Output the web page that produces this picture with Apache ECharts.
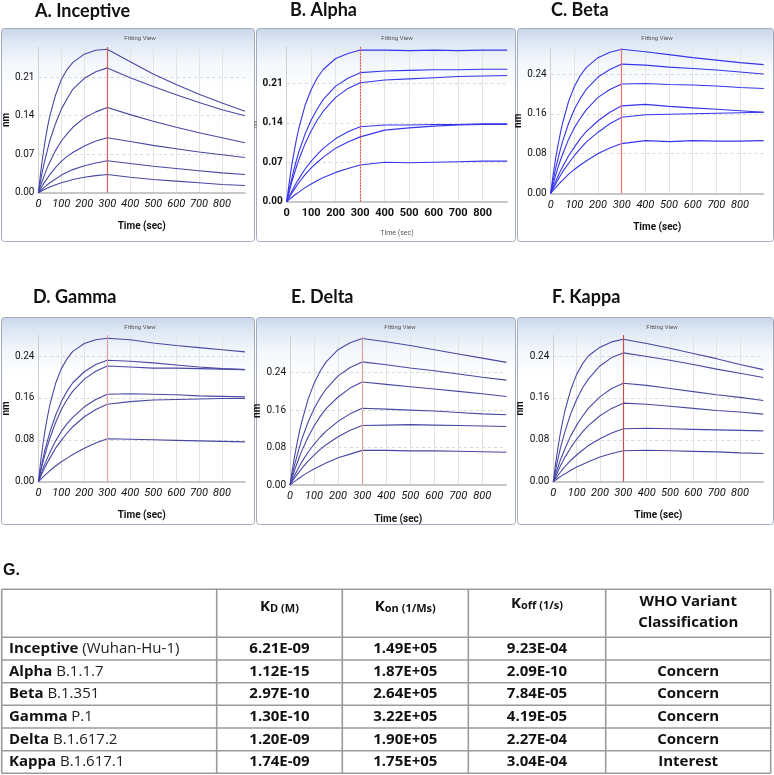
<!DOCTYPE html>
<html><head><meta charset="utf-8">
<script src="https://cdn.jsdelivr.net/npm/echarts@6/dist/echarts.min.js"></script>
<style>html,body{margin:0;padding:0;background:#fff}#c{width:774px;height:775px}</style>
</head><body><div id="c"></div>
<script>
// ---------- DATA ----------
const times = [0,10,20,30,40,50,75,100,125,150,200,250,300,400,500,600,700,800,900];
const inceptive = [
  [0,.037,.069,.096,.120,.140,.178,.206,.224,.237,.252,.259,.261, .238,.216,.197,.179,.163,.148],
  [0,.023,.044,.062,.079,.095,.126,.152,.171,.188,.208,.220,.227, .209,.193,.178,.164,.151,.140],
  [0,.013,.025,.036,.047,.056,.077,.094,.107,.119,.136,.147,.155, .142,.130,.119,.109,.100,.091],
  [0,.0076,.0146,.021,.027,.033,.046,.057,.066,.073,.085,.094,.100, .093,.086,.080,.074,.069,.064],
  [0,.004,.0079,.0116,.015,.018,.025,.032,.037,.042,.049,.054,.058, .053,.048,.044,.040,.036,.033],
  [0,.0023,.0045,.0066,.0085,.0104,.0145,.018,.021,.024,.028,.031,.033, .028,.024,.021,.018,.015,.013]
];
const alpha = [
  [0,.033,.063,.088,.111,.131,.171,.199,.220,.235,.254,.263,.269, .269,.268,.269,.268,.269,.269],
  [0,.021,.040,.058,.074,.089,.120,.145,.165,.182,.205,.219,.229, .232,.233,.234,.234,.235,.235],
  [0,.017,.034,.048,.062,.075,.103,.126,.145,.161,.185,.201,.211, .216,.218,.220,.222,.223,.224],
  [0,.009,.018,.026,.034,.041,.058,.072,.084,.095,.112,.124,.133, .136,.136,.137,.137,.138,.138],
  [0,.0075,.0146,.021,.028,.034,.048,.060,.070,.079,.095,.106,.115, .127,.131,.134,.136,.137,.137],
  [0,.0038,.0074,.011,.0142,.017,.025,.0315,.0375,.043,.052,.059,.065, .070,.069,.070,.071,.072,.072]
];
const beta = [
  [0,.036,.068,.095,.119,.141,.184,.215,.237,.253,.273,.284,.290, .285,.279,.273,.268,.263,.259],
  [0,.025,.048,.068,.087,.104,.140,.169,.191,.209,.234,.249,.260, .258,.254,.251,.248,.244,.240],
  [0,.018,.035,.050,.065,.078,.108,.132,.151,.168,.193,.209,.220, .221,.219,.218,.216,.213,.211],
  [0,.012,.023,.034,.044,.053,.075,.093,.110,.124,.146,.163,.176, .179,.175,.172,.169,.166,.163],
  [0,.009,.018,.027,.035,.043,.060,.076,.090,.103,.123,.140,.153, .158,.159,.160,.161,.162,.163],
  [0,.006,.011,.0166,.0217,.026,.038,.048,.057,.065,.080,.091,.100, .106,.104,.106,.105,.105,.106]
];
const gamma = [
  [0,.039,.072,.101,.125,.147,.188,.216,.235,.249,.264,.271,.274, .271,.265,.260,.256,.252,.248],
  [0,.023,.044,.063,.079,.095,.127,.153,.173,.189,.210,.224,.232, .230,.227,.223,.219,.216,.214],
  [0,.020,.038,.054,.069,.083,.113,.138,.157,.173,.196,.211,.221, .219,.217,.217,.216,.215,.214],
  [0,.013,.025,.036,.046,.056,.078,.096,.111,.123,.143,.157,.167, .168,.167,.166,.164,.163,.162],
  [0,.010,.0197,.0288,.037,.045,.064,.079,.093,.105,.124,.138,.148, .153,.156,.157,.158,.159,.159],
  [0,.0045,.0088,.013,.017,.021,.030,.038,.045,.052,.064,.074,.082, .081,.080,.079,.078,.077,.076]
];
const delta = [
  [0,.034,.064,.091,.116,.137,.183,.217,.243,.263,.289,.304,.313, .306,.298,.289,.280,.271,.262],
  [0,.023,.0445,.064,.082,.099,.134,.163,.186,.205,.233,.251,.263, .257,.250,.244,.237,.230,.224],
  [0,.017,.033,.047,.061,.074,.102,.126,.146,.163,.188,.207,.220, .215,.210,.205,.200,.195,.189],
  [0,.011,.0216,.031,.041,.050,.070,.087,.102,.115,.136,.152,.164, .162,.160,.158,.155,.152,.150],
  [0,.008,.0154,.0226,.029,.036,.051,.064,.0756,.086,.103,.117,.127, .128,.129,.128,.127,.126,.125],
  [0,.004,.0078,.0116,.015,.019,.027,.034,.0407,.047,.058,.066,.074, .074,.073,.073,.072,.071,.070]
];
const kappa = [
  [0,.035,.065,.092,.115,.136,.176,.205,.225,.240,.257,.267,.272, .264,.255,.245,.235,.224,.214],
  [0,.023,.0437,.063,.080,.096,.130,.157,.179,.196,.221,.237,.246, .239,.232,.224,.215,.207,.199],
  [0,.015,.028,.041,.052,.063,.088,.108,.125,.140,.162,.178,.188, .184,.178,.172,.166,.161,.155],
  [0,.0105,.020,.030,.038,.047,.065,.081,.095,.107,.126,.140,.150, .148,.144,.140,.136,.133,.129],
  [0,.0063,.0124,.018,.0236,.029,.041,.051,.060,.069,.082,.093,.101, .102,.101,.100,.099,.098,.097],
  [0,.0033,.0065,.0096,.0126,.015,.022,.028,.033,.038,.047,.054,.059, .060,.059,.058,.057,.055,.054]
];
const injectionEnd = 300;
const panelTitles = ['A. Inceptive','B. Alpha','C. Beta','D. Gamma','E. Delta','F. Kappa'];
const yIntervals = [0.07,0.07,0.08,0.08,0.08,0.08];
const yMaxes = [0.265,0.275,0.292,0.28,0.317,0.28];
const xMax = 900, xInterval = 100;

const rowNames = ['Inceptive','Alpha','Beta','Gamma','Delta','Kappa'];
const rowLineages = ['(Wuhan-Hu-1)','B.1.1.7','B.1.351','P.1','B.1.617.2','B.1.617.1'];
const kdValues = ['6.21E-09','1.12E-15','2.97E-10','1.30E-10','1.20E-09','1.74E-09'];
const konValues = ['1.49E+05','1.87E+05','2.64E+05','3.22E+05','1.90E+05','1.75E+05'];
const koffValues = ['9.23E-04','2.09E-10','7.84E-05','4.19E-05','2.27E-04','3.04E-04'];
const whoValues = ['','Concern','Concern','Concern','Concern','Interest'];

// ---------- LAYOUT ----------
const panelData = [inceptive, alpha, beta, gamma, delta, kappa];
const layout = [
  {frame:[1,28,253,213], grid:[35,47,210,145.7], title:[35,2], dark:true, italic:true, fit:[140,38], red:'#d06060', dash:'solid'},
  {frame:[256,28,259,213], grid:[286.7,46.7,220.5,155], title:[290,1], dark:false, italic:false, fit:[397,38], red:'#f25050', dash:[2,1]},
  {frame:[517,28,256,213], grid:[550.7,48.2,213,145.1], title:[551,1], dark:false, italic:true, fit:[657,38], red:'#f07070', dash:'solid'},
  {frame:[1,317,253,207], grid:[35,335.1,210,146.6], title:[33,288], dark:true, italic:true, fit:[140,327], red:'#e0a0a0', dash:'solid'},
  {frame:[256,317,259,207], grid:[290,336.6,216.4,148.4], title:[291,288], dark:true, italic:true, fit:[400,327], red:'#e0a0a0', dash:'solid'},
  {frame:[517,317,256,207], grid:[553.3,335.1,210,146.6], title:[552,288], dark:true, italic:true, fit:[662,327], red:'#c05050', dash:'solid'}
];
const AX = 'Roboto,sans-serif';

const grids=[], xAxes=[], yAxes=[], series=[], titles=[], graphics=[];
layout.forEach((L,p)=>{
  const [fx,fy,fw,fh]=L.frame;
  graphics.push({type:'rect', z:-100, shape:{x:fx+0.5,y:fy+0.5,width:fw,height:fh,r:3},
    style:{fill:new echarts.graphic.LinearGradient(0,0,0,1,[
      {offset:0,color:'#c8d6e9'},{offset:0.06,color:'#dce6f3'},{offset:0.16,color:'#f3f7fb'},{offset:0.3,color:'#ffffff'},{offset:1,color:'#ffffff'}]),
      stroke:'#a3adbd', lineWidth:1}});
  graphics.push({type:'text', z:5, style:{text:'Fitting View', x:L.fit[0], y:L.fit[1], align:'center', verticalAlign:'middle', fontSize:6, fontFamily:AX, fill:'#555'}});
  const [gl,gt,gw,gh]=L.grid;
  grids.push({left:gl, top:gt, width:gw, height:gh, show:false});
  titles.push({text:panelTitles[p], left:L.title[0], top:L.title[1], padding:0,
    textStyle:{fontFamily:'Lato,sans-serif', fontWeight:'bold', fontSize:18, color:'#111'}});
  const small = !L.dark && !L.italic; // panel B style
  xAxes.push({type:'value', gridIndex:p, min:0, max:xMax, interval:xInterval,
    name:'Time (sec)', nameLocation:'middle', nameGap: small?28:29,
    nameTextStyle:{fontFamily:AX, fontWeight: small?'normal':'bold', fontSize: small?7:10, color: small?'#555':'#111'},
    axisLine:{show:true, onZero:false, lineStyle:{color:'#b5b5b5', width:1.5}},
    axisTick:{show:false},
    axisLabel:{showMaxLabel:false, margin:6, fontFamily:AX, fontSize:11, fontStyle:L.italic?'italic':'normal', fontWeight: small?'bold':'normal', color:'#111'},
    splitLine:{show:true, showMaxLine:false, showMinLine:false, lineStyle:{color:'#e3e3e3', width:1}}
  });
  yAxes.push({type:'value', gridIndex:p, min:0, max:yMaxes[p], interval:yIntervals[p],
    name:'nm', nameLocation:'middle', nameRotate:90, nameGap: small?22:21,
    nameTextStyle:{fontFamily:AX, fontWeight: small?'normal':'bold', fontSize: small?5:10, color: small?'#666':'#111'},
    axisLine:{show:true, lineStyle:{color:'#d0d0d0', width:1}},
    axisTick:{show:false},
    axisLabel:{showMaxLabel:false, margin:4, fontFamily:AX, fontSize:10, color:'#111', fontWeight: small?'bold':'normal',
      formatter:v=>v.toFixed(2)},
    splitLine:{show:true, showMaxLine:false, showMinLine:false, lineStyle:{color:'#d8d8d8', type:[3,3], width:1}}
  });
  const col = L.dark ? '#4848a4' : '#3535ee';
  panelData[p].forEach((curve,i)=>{
    const s = {type:'line', xAxisIndex:p, yAxisIndex:p, showSymbol:false, silent:true,
      smooth:false, animation:false,
      data:times.map((t,j)=>[t,curve[j]]),
      lineStyle:{color:col, width:1.1}, z:3};
    if(i===0){
      s.markLine={silent:true, symbol:['none','none'], animation:false, label:{show:false}, z:4,
        lineStyle:{color:L.red, width:1.2, type:L.dash, opacity:1},
        emphasis:{disabled:true},
        data:[{xAxis:injectionEnd, lineStyle:{color:L.red}}]};
    }
    series.push(s);
  });
});

// ---------- TABLE ----------
const TF = '"Open Sans",sans-serif';
const colX = [1.7,216.7,342.3,468.3,605.7,770.7];
const rowY = [589.3,637.3,660,682.7,705.3,728,750.7,773.3];
const lineCol = '#9a9a9a';
graphics.push({type:'text', style:{text:'G.', x:3, y:571, verticalAlign:'middle', fontFamily:'"Liberation Sans",Arial,sans-serif', fontWeight:'bold', fontSize:16, fill:'#111'}});
rowY.forEach(y=>graphics.push({type:'line', shape:{x1:colX[0],y1:y,x2:colX[5],y2:y}, style:{stroke:lineCol, lineWidth:1.6}}));
colX.forEach(x=>graphics.push({type:'line', shape:{x1:x,y1:rowY[0],x2:x,y2:rowY[7]}, style:{stroke:lineCol, lineWidth:1.6}}));
const hdrRich = {k:{fontFamily:TF, fontWeight:'bold', fontSize:15, fill:'#111', verticalAlign:'bottom'},
                 s:{fontFamily:TF, fontWeight:'bold', fontSize:11, fill:'#111', verticalAlign:'bottom'}};
const headerSubs = ['D (M)','on (1/Ms)','off (1/s)'];
const headerY = [607,607,604];
[0,1,2].forEach(i=>{
  graphics.push({type:'text', style:{text:'{k|K}{s|'+headerSubs[i]+'}', rich:hdrRich,
    x:(colX[i+1]+colX[i+2])/2, y:headerY[i], align:'center', verticalAlign:'middle'}});
});
graphics.push({type:'text', style:{text:'WHO Variant', x:(colX[4]+colX[5])/2, y:602, align:'center', verticalAlign:'middle', fontFamily:TF, fontWeight:'bold', fontSize:15, fill:'#111'}});
graphics.push({type:'text', style:{text:'Classification', x:(colX[4]+colX[5])/2, y:623, align:'center', verticalAlign:'middle', fontFamily:TF, fontWeight:'bold', fontSize:15, fill:'#111'}});
const rowRich = {b:{fontFamily:TF, fontWeight:'bold', fontSize:15, fill:'#111'}, r:{fontFamily:TF, fontWeight:'normal', fontSize:15, fill:'#222'}};
rowNames.forEach((n,i)=>{
  const cy = (rowY[i+1]+rowY[i+2])/2;
  graphics.push({type:'text', style:{text:'{b|'+n+' }{r|'+rowLineages[i]+'}', rich:rowRich, x:9, y:cy, verticalAlign:'middle'}});
  [kdValues[i],konValues[i],koffValues[i],whoValues[i]].forEach((v,c)=>{
    if(!v) return;
    graphics.push({type:'text', style:{text:v, x:(colX[c+1]+colX[c+2])/2, y:cy, align:'center', verticalAlign:'middle', fontFamily:TF, fontWeight:'bold', fontSize:15, fill:'#111'}});
  });
});

const chart = echarts.init(document.getElementById('c'), null, {renderer:'canvas'});
chart.setOption({
  animation:false,
  backgroundColor:'#ffffff',
  title:titles,
  grid:grids, xAxis:xAxes, yAxis:yAxes, series:series,
  graphic:{elements:graphics}
});
</script>
</body></html>
